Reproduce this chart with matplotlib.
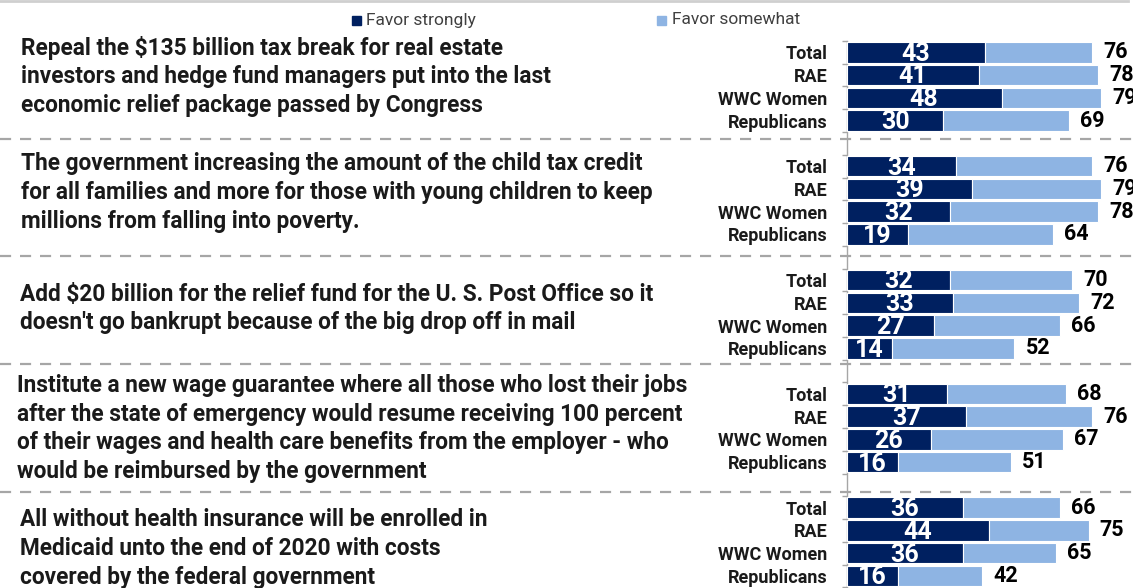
import matplotlib
matplotlib.use("Agg")
import matplotlib.pyplot as plt
import numpy as np

# ---------------- data ----------------
questions = [
    ["Repeal the $135 billion tax break for real estate",
     "investors and hedge fund managers put into the last",
     "economic relief package passed by Congress"],
    ["The government increasing the amount of the child tax credit",
     "for all families and more for those with young children to keep",
     "millions from falling into poverty."],
    ["Add $20 billion for the relief fund for the U. S. Post Office so it",
     "doesn't go bankrupt because of the big drop off in mail"],
    ["Institute a new wage guarantee where all those who lost their jobs",
     "after the state of emergency would resume receiving 100 percent",
     "of their wages and health care benefits from the employer - who",
     "would be reimbursed by the government"],
    ["All without health insurance will be enrolled in",
     "Medicaid unto the end of 2020 with costs",
     "covered by the federal government"],
]
groups = ["Total", "RAE", "WWC Women", "Republicans"]
favor_strongly = [
    [43, 41, 48, 30],
    [34, 39, 32, 19],
    [32, 33, 27, 14],
    [31, 37, 26, 16],
    [36, 44, 36, 16],
]
favor_total = [
    [76, 78, 79, 69],
    [76, 79, 78, 64],
    [70, 72, 66, 52],
    [68, 76, 67, 51],
    [66, 75, 65, 42],
]
legend_labels = ["Favor strongly", "Favor somewhat"]

# ---------------- style / layout ----------------
DARK = "#002060"
LIGHT = "#8EB4E3"
GRID = "#a6a6a6"
FONT = "Roboto"
W, H = 1133, 588
plt.rcParams["font.family"] = [FONT, "DejaVu Sans"]

fig = plt.figure(figsize=(W / 100, H / 100), dpi=100)

bg = fig.add_axes([0, 0, 1, 1])
bg.set_xlim(0, W)
bg.set_ylim(H, 0)
bg.axis("off")

x0_px = 846.7
px_per_unit = 3.225
row0_px = 52.3
row_step_px = 22.77
per_group = 5  # 4 rows + 1 blank category

ax = fig.add_axes([x0_px / W, 0, 1 - x0_px / W, 1])
ax.set_xlim(0, (W - x0_px) / px_per_unit)
ax.set_ylim((H - row0_px) / row_step_px, -row0_px / row_step_px)
ax.set_zorder(2)
ax.patch.set_alpha(0)

ypos, ylabels = [], []
for g in range(len(questions)):
    for r in range(len(groups)):
        ypos.append(g * per_group + r)
        ylabels.append(groups[r])
ypos = np.array(ypos)
strong = np.array(favor_strongly).ravel()
total = np.array(favor_total).ravel()
somewhat = total - strong

bh = 0.9
ax.barh(ypos, strong, height=bh, color=DARK, edgecolor="white", linewidth=0.8, zorder=3)
ax.barh(ypos, somewhat, left=strong, height=bh, color=LIGHT, edgecolor="white",
        linewidth=0.8, zorder=3)

for y, s, t in zip(ypos, strong, total):
    ax.annotate(f"{s}", (s / 2, y), xytext=(0, -1), textcoords="offset points",
                ha="center", va="center", color="white", fontsize=18,
                fontweight="bold", zorder=4)
    ax.annotate(f"{t}", (t, y), xytext=(8, 0), textcoords="offset points",
                ha="left", va="center", color="black", fontsize=15.5,
                fontweight="bold", annotation_clip=False, zorder=4)

for sp in ["top", "right", "bottom"]:
    ax.spines[sp].set_visible(False)
ax.spines["left"].set_color(GRID)
ax.spines["left"].set_linewidth(1.0)
ax.spines["left"].set_bounds(-0.5, (H - row0_px) / row_step_px)
ax.set_xticks([])
ax.set_yticks(ypos)
ax.set_yticklabels(ylabels, fontsize=13, fontweight="bold", color="#1a1a1a")
ax.tick_params(axis="y", which="major", length=0, pad=14)
n_cat = len(questions) * per_group
ax.set_yticks(np.arange(n_cat) - 0.5, minor=True)
ax.tick_params(axis="y", which="minor", length=3.6, color=GRID, width=1.0)

# question text
q_centers = [76.5, 192.5, 308.5, 428.5, 548.5]
q_x = [21, 21, 20, 17, 20]
line_px = 28.8
for lines, yc, xq in zip(questions, q_centers, q_x):
    n = len(lines)
    for k, line in enumerate(lines):
        bg.text(xq, yc + (k - (n - 1) / 2) * line_px, line, ha="left",
                va="center", fontsize=16.3, fontweight="bold", color="#1a1a1a")

for ys in [138.5, 256, 364, 492]:
    bg.plot([0, W], [ys, ys], color=GRID, lw=1.6, ls=(0, (5, 4)), zorder=1)

bg.plot([0, 1128], [1, 1], color="#cfcfcf", lw=2.0)

for (sx, tx), lab, col in zip([(352, 366), (657, 672)], legend_labels, [DARK, LIGHT]):
    bg.add_patch(plt.Rectangle((sx, 15.5), 9, 9, color=col))
    bg.text(tx, 20, lab, ha="left", va="center", fontsize=12.5, color="#404040")

fig.savefig("out.png", dpi=100)
